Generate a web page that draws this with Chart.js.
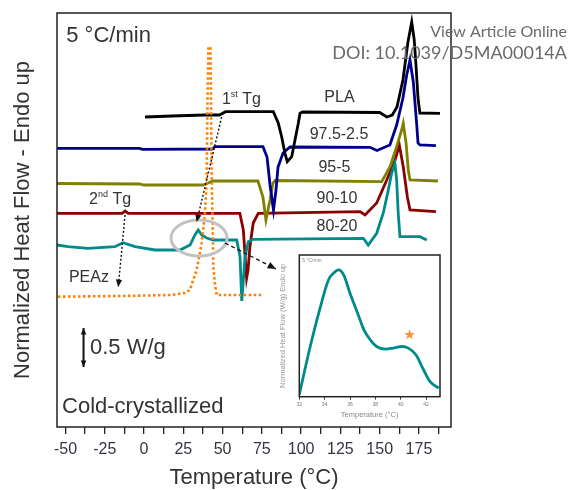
<!DOCTYPE html>
<html>
<head>
<meta charset="utf-8">
<title>DSC cold-crystallized 5 °C/min</title>
<script src="https://cdn.jsdelivr.net/npm/chart.js@4.4.1/dist/chart.umd.min.js"></script>
<style>
  html, body { margin: 0; padding: 0; background: #fff; }
  #wrap { position: relative; width: 569px; height: 490px; }
  #insetChart { position: absolute; left: 272px; top: 250px; }
</style>
</head>
<body>
<div id="wrap">
  <canvas id="dscChart" width="569" height="490"></canvas>
  <canvas id="insetChart" width="175" height="172"></canvas>
</div>
<script>
// Temperatures in °C, heat flow in stacked arbitrary units (curves are offset vertically)
const plaTemp = [0.6, 17.6, 38.9, 48.0, 51.9, 82.3, 85.5, 87.6, 89.7, 91.2, 94.0, 96.1, 98.2, 99.3, 101.0, 150.0, 154.6, 158.0, 161.0, 164.8, 168.0, 170.4, 172.0, 173.1, 174.4, 175.6, 188.4];
const plaFlow = [310, 311, 312, 312, 315.3, 315.3, 303.7, 290.3, 273.7, 265.3, 270.3, 287, 303.7, 313.7, 315, 314.5, 310, 312, 320, 347, 385, 405, 387, 362, 329, 314, 313.7];

const pla975Temp = [-55.4, -3.0, -1.0, 43.3, 45.2, 75.7, 78.3, 80.2, 82.4, 84.0, 85.3, 88.5, 92.9, 143.8, 148.3, 156.5, 160.8, 164.8, 167.2, 169.3, 171.4, 173.6, 174.4, 175.6, 185.8];
const pla975Flow = [278.7, 278.7, 277.7, 278, 280.3, 280.3, 270, 242, 217, 237, 260, 274, 280, 279.7, 276.5, 282, 302, 329, 352, 367, 345, 302, 284, 282, 281.3];

const pla95Temp = [-55.4, -3.0, 0.0, 37.5, 43.9, 72.5, 75.7, 77.6, 80.2, 82.1, 83.4, 151.3, 156.6, 160.8, 164.0, 165.0, 166.8, 168.2, 169.3, 187.1];
const pla95Flow = [243.5, 243, 242, 242, 246, 246, 230, 207, 227, 244, 246.5, 245.3, 260.3, 280.3, 297, 303.7, 284, 257, 247, 246];

const pla90Temp = [-55.4, -14.0, -12.0, -10.0, 61.0, 63.2, 64.3, 65.3, 66.2, 67.4, 69.5, 72.7, 137.5, 140.7, 148.1, 154.5, 159.8, 162.5, 165.0, 167.6, 169.3, 185.8];
const pla90Flow = [213.7, 213.7, 216, 213.7, 213.7, 197, 172, 149, 157, 180.3, 204, 213.7, 215.3, 212, 224, 247, 267, 282, 260.3, 230.3, 217, 215.3];

const pla80Temp = [-55.4, -48.4, -35.7, -18.5, -13.4, -5.8, 7.0, 22.9, 29.3, 32.4, 34.5, 36.7, 39.9, 44.1, 59.0, 61.1, 62.2, 63.0, 64.3, 66.4, 69.5, 139.6, 142.7, 148.1, 152.3, 155.5, 157.6, 159.7, 160.8, 161.8, 162.9, 175.6, 180.0];
const pla80Flow = [182, 180.3, 178.7, 180.3, 184.3, 180.3, 177, 177, 182, 192, 197, 192, 189, 187, 187, 170.3, 126, 142, 170.3, 185.3, 187.7, 188.7, 182, 193.7, 214, 237, 253.7, 263.7, 247, 214, 190.3, 190.3, 187];

const peazTemp = [-54.8, -15.0, 17.0, 26.0, 29.2, 33.5, 36.7, 38.8, 39.9, 40.4, 41.0, 42.3, 43.1, 43.6, 44.1, 45.2, 46.3, 74.9];
const peazFlow = [130.3, 131, 132, 134, 137, 157, 184, 214, 247, 327, 380, 380, 247, 210, 160, 142, 132, 132];

// inset: zoom on the PEAz region of 80-20
const insetTemp = [32.0, 32.8, 33.6, 34.3, 34.7, 35.1, 35.5, 36.0, 36.6, 37.1, 37.6, 38.1, 38.8, 39.4, 40.1, 40.6, 41.2, 41.8, 42.3, 43.0];
const insetFlow = [2, 47, 87, 117, 123.7, 127, 122, 103.7, 83.7, 67, 57, 50.3, 47.7, 48.7, 50.3, 48.7, 42, 27, 15.3, 8.7];

const xMajorTicks = [-50, -25, 0, 25, 50, 75, 100, 125, 150, 175];
const xTickLabels = ['-50', '-25', '0', '25', '50', '75', '100', '125', '150', '175'];
const xMinorTicks = [-37.5, -12.5, 12.5, 37.5, 62.5, 87.5, 112.5, 137.5, 162.5, 187.5];
const insetTicks = [32, 34, 36, 38, 40, 42];
const insetTickLabels = ['32', '34', '36', '38', '40', '42'];

const FONT = 'Arial, "Liberation Sans", sans-serif';
const INK = '#333';

const toPts = (xs, ys) => xs.map((x, i) => ({ x: x, y: ys[i] }));

function curve(label, xs, ys, color, extra) {
    return Object.assign({
        label: label,
        data: toPts(xs, ys),
        borderColor: color,
        borderWidth: 2.8,
        pointRadius: 0,
        tension: 0,
        fill: false
    }, extra || {});
}

function arrowHead(ctx, x1, y1, x2, y2, size) {
    const a = Math.atan2(y2 - y1, x2 - x1);
    ctx.beginPath();
    ctx.moveTo(x2, y2);
    ctx.lineTo(x2 - size * Math.cos(a - 0.4), y2 - size * Math.sin(a - 0.4));
    ctx.lineTo(x2 - size * Math.cos(a + 0.4), y2 - size * Math.sin(a + 0.4));
    ctx.closePath();
    ctx.fill();
}

const annotate = {
    id: 'annotate',
    afterDatasetsDraw(chart) {
        const { ctx, chartArea: a, scales } = chart;
        const X = v => scales.x.getPixelForValue(v);
        const Y = v => scales.y.getPixelForValue(v);
        ctx.save();

        // frame
        ctx.strokeStyle = '#222';
        ctx.lineWidth = 1.5;
        ctx.strokeRect(a.left, a.top, a.right - a.left, a.bottom - a.top);

        // grey ellipse round the PEAz melting region
        ctx.strokeStyle = '#c2c2c2';
        ctx.lineWidth = 3;
        ctx.beginPath();
        ctx.ellipse(X(35), Y(189), 28, 18, 0, 0, Math.PI * 2);
        ctx.stroke();

        // dotted Tg pointers
        ctx.strokeStyle = '#111';
        ctx.fillStyle = '#111';
        ctx.lineWidth = 1.4;
        ctx.setLineDash([2, 2]);
        ctx.beginPath();
        ctx.moveTo(X(49.4), Y(310));
        ctx.lineTo(X(33.5), Y(205));
        ctx.moveTo(X(-12.1), Y(212));
        ctx.lineTo(X(-16.4), Y(140));
        ctx.stroke();
        ctx.setLineDash([]);
        arrowHead(ctx, X(49.4), Y(310), X(33.5), Y(205), 8);
        arrowHead(ctx, X(-12.1), Y(212), X(-16.4), Y(140), 8);

        // dashed arrow toward the inset
        ctx.setLineDash([4, 3]);
        ctx.lineWidth = 1.3;
        ctx.beginPath();
        ctx.moveTo(X(51.5), Y(184));
        ctx.lineTo(X(84), Y(158));
        ctx.stroke();
        ctx.setLineDash([]);
        arrowHead(ctx, X(51.5), Y(184), X(84), Y(158), 9);

        // 0.5 W/g scale bar
        ctx.lineWidth = 2;
        ctx.beginPath();
        ctx.moveTo(X(-38.5), Y(99));
        ctx.lineTo(X(-38.5), Y(60));
        ctx.stroke();
        arrowHead(ctx, X(-38.5), Y(80), X(-38.5), Y(99), 7);
        arrowHead(ctx, X(-38.5), Y(80), X(-38.5), Y(60), 7);

        // texts
        ctx.fillStyle = INK;
        ctx.textBaseline = 'middle';
        const text = (s, t, v, size, align) => {
            ctx.font = size + 'px ' + FONT;
            ctx.textAlign = align || 'left';
            ctx.fillText(s, X(t), Y(v));
        };
        text('5 °C/min', -49.5, 391, 22);
        text('PLA', 124.4, 329, 16, 'center');
        text('97.5-2.5', 124.1, 292, 16, 'center');
        text('95-5', 121.2, 259, 16, 'center');
        text('90-10', 122.8, 228, 16, 'center');
        text('80-20', 122.8, 200, 16, 'center');
        text('PEAz', -47.8, 149, 16);
        text('0.5 W/g', -34.4, 79, 22);
        text('Cold-crystallized', -52.2, 20, 22);

        // 1st Tg / 2nd Tg with superscripts
        const tg = (num, sup, t, v) => {
            let px = X(t);
            const py = Y(v);
            ctx.textAlign = 'left';
            ctx.font = '16px ' + FONT;
            ctx.fillText(num, px, py);
            px += ctx.measureText(num).width;
            ctx.font = '9px ' + FONT;
            ctx.fillText(sup, px, py - 5);
            px += ctx.measureText(sup).width;
            ctx.font = '16px ' + FONT;
            ctx.fillText(' Tg', px, py);
        };
        tg('1', 'st', 49.6, 327);
        tg('2', 'nd', -35, 227);
        ctx.restore();
    },
    afterDraw(chart) {
        // journal watermark lying over the figure
        const ctx = chart.ctx;
        ctx.save();
        ctx.fillStyle = '#6a6a6a';
        ctx.textAlign = 'right';
        ctx.textBaseline = 'middle';
        ctx.font = '16px Lato, "Open Sans", sans-serif';
        ctx.fillText('View Article Online', 567, 32);
        ctx.font = '18px Lato, "Open Sans", sans-serif';
        ctx.fillText('DOI: 10.1039/D5MA00014A', 567, 53);
        ctx.restore();
    }
};

new Chart(document.getElementById('dscChart'), {
    type: 'line',
    data: {
        datasets: [
            curve('PEAz', peazTemp, peazFlow, '#ff8000', { borderDash: [2.5, 2.5], borderWidth: 2.6 }),
            curve('PLA', plaTemp, plaFlow, '#000000'),
            curve('97.5-2.5', pla975Temp, pla975Flow, '#00008b'),
            curve('95-5', pla95Temp, pla95Flow, '#808000'),
            curve('80-20', pla80Temp, pla80Flow, '#008b8b'),
            curve('90-10', pla90Temp, pla90Flow, '#8b0000')
        ]
    },
    options: {
        responsive: false,
        devicePixelRatio: 1,
        animation: false,
        layout: { padding: { top: 13, right: 118, left: 0, bottom: 0 } },
        plugins: { legend: { display: false }, tooltip: { enabled: false } },
        scales: {
            x: {
                type: 'linear',
                min: -55.4,
                max: 195.4,
                afterBuildTicks: s => {
                    s.ticks = xMajorTicks.concat(xMinorTicks).sort((p, q) => p - q).map(v => ({ value: v }));
                },
                afterFit: s => { s.height = 63; },
                border: { display: false },
                grid: { drawOnChartArea: false, tickLength: 7, color: '#222', lineWidth: 1.3 },
                ticks: {
                    autoSkip: false,
                    maxRotation: 0,
                    padding: 6,
                    color: '#3a3340',
                    font: { family: FONT, size: 16 },
                    callback: v => {
                        const i = xMajorTicks.indexOf(v);
                        return i < 0 ? '' : xTickLabels[i];
                    }
                },
                title: {
                    display: true,
                    text: 'Temperature (°C)',
                    color: INK,
                    font: { family: FONT, size: 22, lineHeight: 1.1 },
                    padding: 0
                }
            },
            y: {
                min: 0,
                max: 414,
                afterFit: s => { s.width = 57; },
                border: { display: false },
                grid: { display: false },
                ticks: { display: false },
                title: {
                    display: true,
                    text: 'Normalized Heat Flow - Endo up',
                    color: INK,
                    font: { family: FONT, size: 22 },
                    padding: { top: 10, bottom: 0 }
                }
            }
        }
    },
    plugins: [annotate]
});

const insetDecor = {
    id: 'insetDecor',
    beforeDatasetsDraw(chart) {
        const { ctx, chartArea: a } = chart;
        ctx.save();
        ctx.fillStyle = '#fff';
        ctx.fillRect(a.left, a.top, a.right - a.left, a.bottom - a.top);
        ctx.restore();
    },
    afterDatasetsDraw(chart) {
        const { ctx, chartArea: a, scales } = chart;
        ctx.save();
        ctx.strokeStyle = '#222';
        ctx.lineWidth = 1.5;
        ctx.strokeRect(a.left, a.top, a.right - a.left, a.bottom - a.top);
        ctx.fillStyle = '#888';
        ctx.font = '5px ' + FONT;
        ctx.textBaseline = 'middle';
        ctx.fillText('5 °C/min', a.left + 3, a.top + 6);

        // orange star above the second melting shoulder
        const cx = scales.x.getPixelForValue(40.7);
        const cy = scales.y.getPixelForValue(62);
        ctx.fillStyle = '#f0943a';
        ctx.beginPath();
        for (let i = 0; i < 10; i++) {
            const r = i % 2 ? 2.2 : 5.5;
            const ang = -Math.PI / 2 + i * Math.PI / 5;
            ctx.lineTo(cx + r * Math.cos(ang), cy + r * Math.sin(ang));
        }
        ctx.closePath();
        ctx.fill();
        ctx.restore();
    }
};

new Chart(document.getElementById('insetChart'), {
    type: 'line',
    data: {
        datasets: [curve('80-20 inset', insetTemp, insetFlow, '#008b8b', { cubicInterpolationMode: 'monotone', borderWidth: 2.8 })]
    },
    options: {
        responsive: false,
        devicePixelRatio: 1,
        animation: false,
        layout: { padding: { top: 5, right: 7, left: 0, bottom: 0 } },
        plugins: { legend: { display: false }, tooltip: { enabled: false } },
        scales: {
            x: {
                type: 'linear',
                min: 32,
                max: 43.1,
                afterBuildTicks: s => { s.ticks = insetTicks.map(v => ({ value: v })); },
                afterFit: s => { s.height = 25.3; },
                border: { display: false },
                grid: { drawOnChartArea: false, tickLength: 3, color: '#444' },
                ticks: {
                    autoSkip: false,
                    maxRotation: 0,
                    padding: 2,
                    color: '#777',
                    font: { family: FONT, size: 5 },
                    callback: v => insetTickLabels[insetTicks.indexOf(v)]
                },
                title: {
                    display: true,
                    text: 'Temperature (°C)',
                    color: '#888',
                    font: { family: FONT, size: 7.5 },
                    padding: { top: 0, bottom: 2.5 }
                }
            },
            y: {
                min: 0,
                max: 142,
                afterFit: s => { s.width = 27.3; },
                border: { display: false },
                grid: { display: false },
                ticks: { display: false },
                title: {
                    display: true,
                    text: 'Normalized Heat Flow (W/g) Endo up',
                    color: '#999',
                    font: { family: FONT, size: 7.5 },
                    padding: { top: 6.5, bottom: 0 }
                }
            }
        }
    },
    plugins: [insetDecor]
});
</script>
</body>
</html>
